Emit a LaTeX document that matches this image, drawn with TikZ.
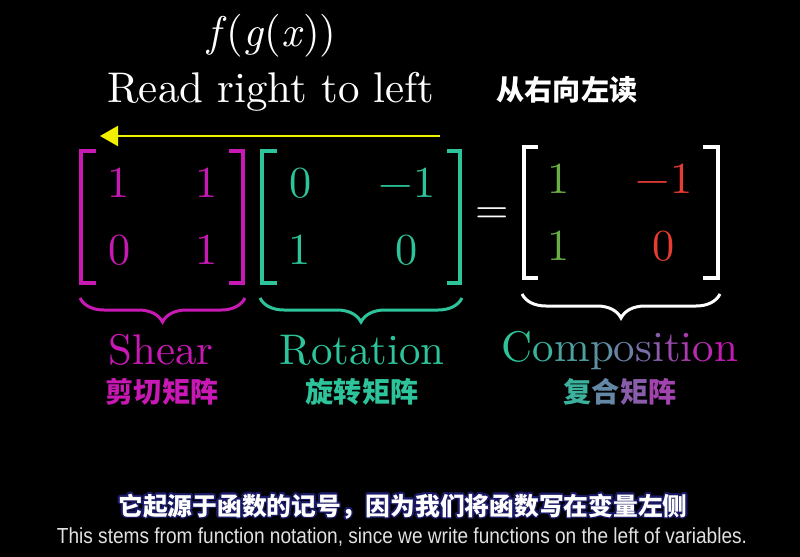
\documentclass[tikz,border=0pt]{standalone}
\usepackage{fontspec}
\usepackage[copies]{contour}
\usetikzlibrary{arrows.meta, decorations.pathreplacing}
\setmainfont{lmroman10-regular.otf}[ItalicFont=lmroman10-italic.otf]
\newfontfamily\cjk{Noto Sans CJK SC}
\newfontfamily\subfont{Liberation Sans}
\definecolor{shearc}{RGB}{200,25,180}
\definecolor{rotc}{RGB}{45,195,155}
\definecolor{grn}{RGB}{105,175,70}
\definecolor{rd}{RGB}{230,60,50}
\definecolor{ylw}{RGB}{240,240,0}
\definecolor{navyc}{RGB}{25,25,100}
\definecolor{subc}{RGB}{225,225,225}
\contourlength{1.1pt}

\begin{document}
\begin{tikzpicture}[x=0.025cm, y=-0.025cm,
  big/.style={inner sep=0pt, anchor=base, font=\fontsize{30.5}{36}\selectfont},
  ent/.style={inner sep=0pt, anchor=base, font=\fontsize{31.5}{38}\selectfont},
  brk/.style={line width=0.1cm},
  brc/.style={decorate, decoration={brace, mirror, amplitude=0.6cm}, line width=0.075cm},
  cn/.style={inner sep=0pt, font=\fontsize{20}{24}\selectfont\cjk\bfseries}]
\fill[black] (0,0) rectangle (800,557);

% title
\node[big, text=white] (fgx) at (272,47) {\textit{f}(\textit{g}(\textit{x}))};
\node[big, text=white] (read) at (271,103) {Read right to left};
\node[cn, text=white] (readcn) at (567,90) {从右向左读};
\coordinate (arrR) at (440,136);
\coordinate (arrL) at (100,136);
\draw[ylw, line width=0.06cm, -{Triangle[length=0.45cm, width=0.5cm]}] (arrR) -- (arrL);

% shear matrix
\draw[brk, shearc] (96,151) -- (81,151) -- (81,283) -- (96,283);
\draw[brk, shearc] (229,151) -- (243,151) -- (243,283) -- (229,283);
\node[ent, text=shearc] (s11) at (119,198) {1};
\node[ent, text=shearc] (s12) at (207,198) {1};
\node[ent, text=shearc] (s21) at (120,264) {0};
\node[ent, text=shearc] (s22) at (207,264) {1};

% rotation matrix
\draw[brk, rotc] (277,151) -- (262,151) -- (262,283) -- (277,283);
\draw[brk, rotc] (447,151) -- (460,151) -- (460,283) -- (447,283);
\node[ent, text=rotc] (r11) at (301,198) {0};
\node[ent, text=rotc] (r12) at (407,198) {−1};
\node[ent, text=rotc] (r21) at (300,264) {1};
\node[ent, text=rotc] (r22) at (407,264) {0};

\node[big, text=white] (eq) at (492,223) {=};

% composition matrix
\draw[brk, white] (538,147) -- (524,147) -- (524,278) -- (538,278);
\draw[brk, white] (703,147) -- (718,147) -- (718,278) -- (703,278);
\node[ent, text=grn] (c11) at (559,194) {1};
\node[ent, text=rd] (c12) at (664,194) {−1};
\node[ent, text=grn] (c21) at (559,260) {1};
\node[ent, text=rd] (c22) at (664,260) {0};

% braces
\draw[brc, shearc] (80,298) -- (245,298);
\draw[brc, rotc] (260,298) -- (462,298);
\draw[brc, white] (522,294) -- (720,294);

% labels
\node[big, text=shearc] (shear) at (161,364) {Shear};
\node[big, text=rotc] (rot) at (362,364) {Rotation};
\node[big] (comp) at (620,361) {{\color{rotc}C}{\color{rotc!90!shearc}o}{\color{rotc!80!shearc}m}{\color{rotc!70!shearc}p}{\color{rotc!60!shearc}o}{\color{rotc!50!shearc}s}{\color{rotc!40!shearc}i}{\color{rotc!30!shearc}t}{\color{rotc!20!shearc}i}{\color{rotc!10!shearc}o}{\color{shearc}n}};
\node[cn, text=shearc] (shearcn) at (162,392) {剪切矩阵};
\node[cn, text=rotc] (rotcn) at (362,392) {旋转矩阵};
\node[cn] (compcn) at (620,392) {{\color{rotc!90!shearc}复}{\color{rotc!65!shearc}合}{\color{rotc!40!shearc}矩}{\color{rotc!25!shearc}阵}};

% subtitles
\node[inner sep=0pt, text=white, font=\fontsize{17.6}{20}\selectfont\cjk\bfseries] (subcn) at (403,507) {\contour{navyc}{它起源于函数的记号，因为我们将函数写在变量左侧}};
\node[inner sep=0pt, text=subc, font=\fontsize{15.5}{18}\selectfont\subfont] (suben) at (402,537) {\resizebox{17.25cm}{\height}{This stems from function notation, since we write functions on the left of variables.}};
\end{tikzpicture}
\end{document}
